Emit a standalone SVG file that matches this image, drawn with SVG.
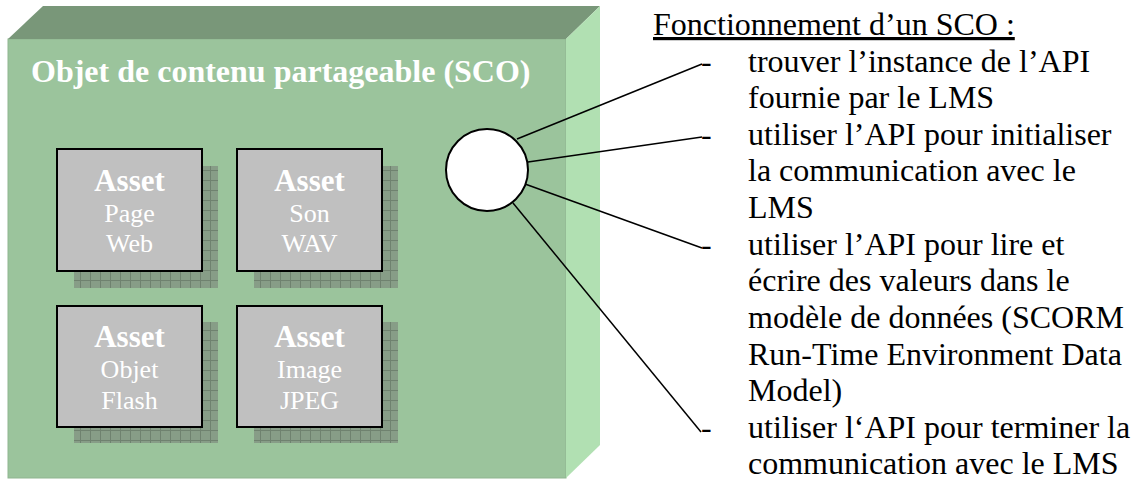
<svg xmlns="http://www.w3.org/2000/svg" width="1143" height="481" viewBox="0 0 1143 481">
<defs>
<pattern id="grid" width="10" height="10" patternUnits="userSpaceOnUse">
<rect width="10" height="10" fill="#879d87"/>
<path d="M0 0.5H10M0.5 0V10" stroke="#6f826f" stroke-width="1"/>
</pattern>
<style>
text{font-family:'Liberation Serif','Times New Roman',Times,serif}
.assetbox{fill:#c0c0c0;stroke:#000;stroke-width:2}
.shadow{fill:url(#grid)}
.title{font-size:32px;font-weight:bold;fill:#fff}
.at{fill:#fff;text-anchor:middle}
.ab{font-weight:bold;font-size:31px}
.as{font-size:26px}
.lt{font-size:32px;fill:#000}
.conn{stroke:#000;stroke-width:1.5;fill:none}
</style>
</defs>
<rect width="1143" height="481" fill="#fff"/>
<g id="sco">
<rect x="8" y="39" width="558" height="439" fill="#9bc49c" stroke="#8fb590" stroke-width="1"/>
<polygon points="8,39 43,6 600,6 566,39" fill="#799779"/>
<polygon points="566,39 600,6 600,445 566,478" fill="#b1e0b2"/>
<text class="title" x="31" y="82">Objet de contenu partageable (SCO)</text>
</g>
<g id="asset-page-web">
<rect class="shadow" x="74" y="166" width="144" height="122"/>
<rect class="assetbox" x="57" y="149" width="145" height="122"/>
<text class="at ab" x="129.5" y="191">Asset</text>
<text class="at as" x="129.5" y="222">Page</text>
<text class="at as" x="129.5" y="252">Web</text>
</g>
<g id="asset-son-wav">
<rect class="shadow" x="254" y="166" width="144" height="122"/>
<rect class="assetbox" x="237" y="149" width="145" height="122"/>
<text class="at ab" x="309.5" y="191">Asset</text>
<text class="at as" x="309.5" y="222">Son</text>
<text class="at as" x="309.5" y="252">WAV</text>
</g>
<g id="asset-objet-flash">
<rect class="shadow" x="74" y="322" width="144" height="121"/>
<rect class="assetbox" x="57" y="306" width="145" height="121"/>
<text class="at ab" x="129.5" y="347">Asset</text>
<text class="at as" x="129.5" y="378">Objet</text>
<text class="at as" x="129.5" y="409">Flash</text>
</g>
<g id="asset-image-jpeg">
<rect class="shadow" x="254" y="322" width="144" height="121"/>
<rect class="assetbox" x="237" y="306" width="145" height="121"/>
<text class="at ab" x="309.5" y="347">Asset</text>
<text class="at as" x="309.5" y="378">Image</text>
<text class="at as" x="309.5" y="409">JPEG</text>
</g>
<g id="connectors">
<line class="conn" x1="517" y1="139" x2="702" y2="64"/>
<line class="conn" x1="528" y1="162" x2="702" y2="137"/>
<line class="conn" x1="525" y1="184" x2="702" y2="248"/>
<line class="conn" x1="513" y1="203" x2="701" y2="432"/>
</g>
<g id="api">
<circle cx="487" cy="170" r="41" fill="#fff" stroke="#000" stroke-width="2"/>
</g>
<g id="fonctionnement">
<text class="lt" x="653" y="35" text-decoration="underline">Fonctionnement d’un SCO :</text>
<text class="lt" x="701" y="71.5">-</text>
<text class="lt" x="701" y="144.5">-</text>
<text class="lt" x="701" y="254.5">-</text>
<text class="lt" x="701" y="438">-</text>
<text class="lt" x="748" y="71.5">trouver l’instance de l’API</text>
<text class="lt" x="748" y="108">fournie par le LMS</text>
<text class="lt" x="748" y="144.5">utiliser l’API pour initialiser</text>
<text class="lt" x="748" y="181">la communication avec le</text>
<text class="lt" x="748" y="218">LMS</text>
<text class="lt" x="748" y="254.5">utiliser l’API pour lire et</text>
<text class="lt" x="748" y="291">écrire des valeurs dans le</text>
<text class="lt" x="748" y="328">modèle de données (SCORM</text>
<text class="lt" x="748" y="364.5">Run-Time Environment Data</text>
<text class="lt" x="748" y="401">Model)</text>
<text class="lt" x="748" y="438">utiliser l‘API pour terminer la</text>
<text class="lt" x="748" y="474">communication avec le LMS</text>
</g>
</svg>
